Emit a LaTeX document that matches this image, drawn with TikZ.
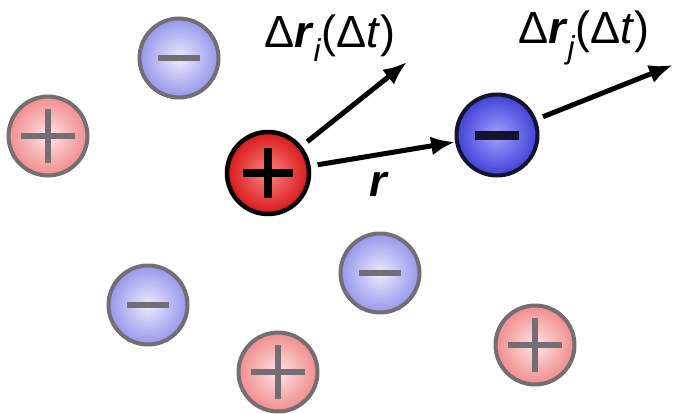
\documentclass[tikz,border=0pt]{standalone}
\usepackage{fontspec}
\setmainfont{Liberation Sans}
\usetikzlibrary{arrows.meta}
\definecolor{pinkin}{RGB}{255,228,228}
\definecolor{pinkout}{RGB}{240,140,140}
\definecolor{bluein}{RGB}{235,235,255}
\definecolor{blueout}{RGB}{150,150,235}
\definecolor{ringgray}{RGB}{115,110,115}
\definecolor{psign}{RGB}{100,85,90}
\definecolor{msign}{RGB}{75,75,110}
\definecolor{redin}{RGB}{255,130,130}
\definecolor{redout}{RGB}{215,25,25}
\definecolor{bluemin}{RGB}{160,160,255}
\definecolor{bluemout}{RGB}{65,65,215}
\definecolor{darkring}{RGB}{20,20,45}
\tikzset{
  ion/.style={circle, minimum size=#1, inner sep=0pt},
  plussign/.style 2 args={path picture={
    \draw[line width=#2, line cap=butt] ([xshift=-#1]path picture bounding box.center) -- ([xshift=#1]path picture bounding box.center)
      ([yshift=-#1]path picture bounding box.center) -- ([yshift=#1]path picture bounding box.center);}},
  minussign/.style 2 args={path picture={
    \draw[line width=#2] ([xshift=-#1]path picture bounding box.center) -- ([xshift=#1]path picture bounding box.center);}},
  fplus/.style={ion=79pt, draw=ringgray, line width=4pt, inner color=pinkin, outer color=pinkout,
    plussign={27pt}{6.5pt}, color=psign, draw=ringgray},
  fminus/.style={ion=79pt, draw=ringgray, line width=4pt, inner color=bluein, outer color=blueout,
    minussign={21pt}{6.5pt}, color=msign, draw=ringgray},
  mplus/.style={ion=82pt, draw=black, line width=4.5pt, inner color=redin, outer color=redout,
    plussign={25pt}{8pt}, color=black, draw=black},
  mminus/.style={ion=81pt, draw=darkring, line width=4pt, inner color=bluemin, outer color=bluemout,
    minussign={22pt}{9pt}, color=black, draw=darkring},
  arr/.style={line width=5pt, -{Latex[length=24pt,width=19pt]}, black},
  lbl/.style={font=\fontsize{45}{48}\selectfont, inner sep=0pt}
}
\begin{document}
\begin{tikzpicture}[x=1pt,y=-1pt]
\useasboundingbox (0,0) rectangle (673,413);
\node[fminus] (m1) at (179,58) {};
\node[fplus]  (p1) at (48,136) {};
\node[fminus] (m2) at (148,305) {};
\node[fplus]  (p2) at (278,372) {};
\node[fminus] (m3) at (380,273) {};
\node[fplus]  (p3) at (535,345) {};
\node[mplus]  (P) at (268,173) {};
\node[mminus] (M) at (497,135) {};
\coordinate (ti) at (407,62);
\coordinate (tj) at (673,65);
\draw[arr, shorten <=7pt] (P) -- (ti);
\draw[arr, shorten <=7pt] (P) -- (M);
\draw[arr, shorten <=7pt] (M) -- (tj);
\node[lbl] (li) at (330,38) {Δ\textbf{\textit{r}}\textsubscript{\textit{i}}(Δ\textit{t})};
\node[lbl] (lj) at (584,38) {Δ\textbf{\textit{r}}\textsubscript{\textit{j}}(Δ\textit{t})};
\node[lbl] (lr) at (379,184) {\textbf{\textit{r}}};
\end{tikzpicture}
\end{document}
